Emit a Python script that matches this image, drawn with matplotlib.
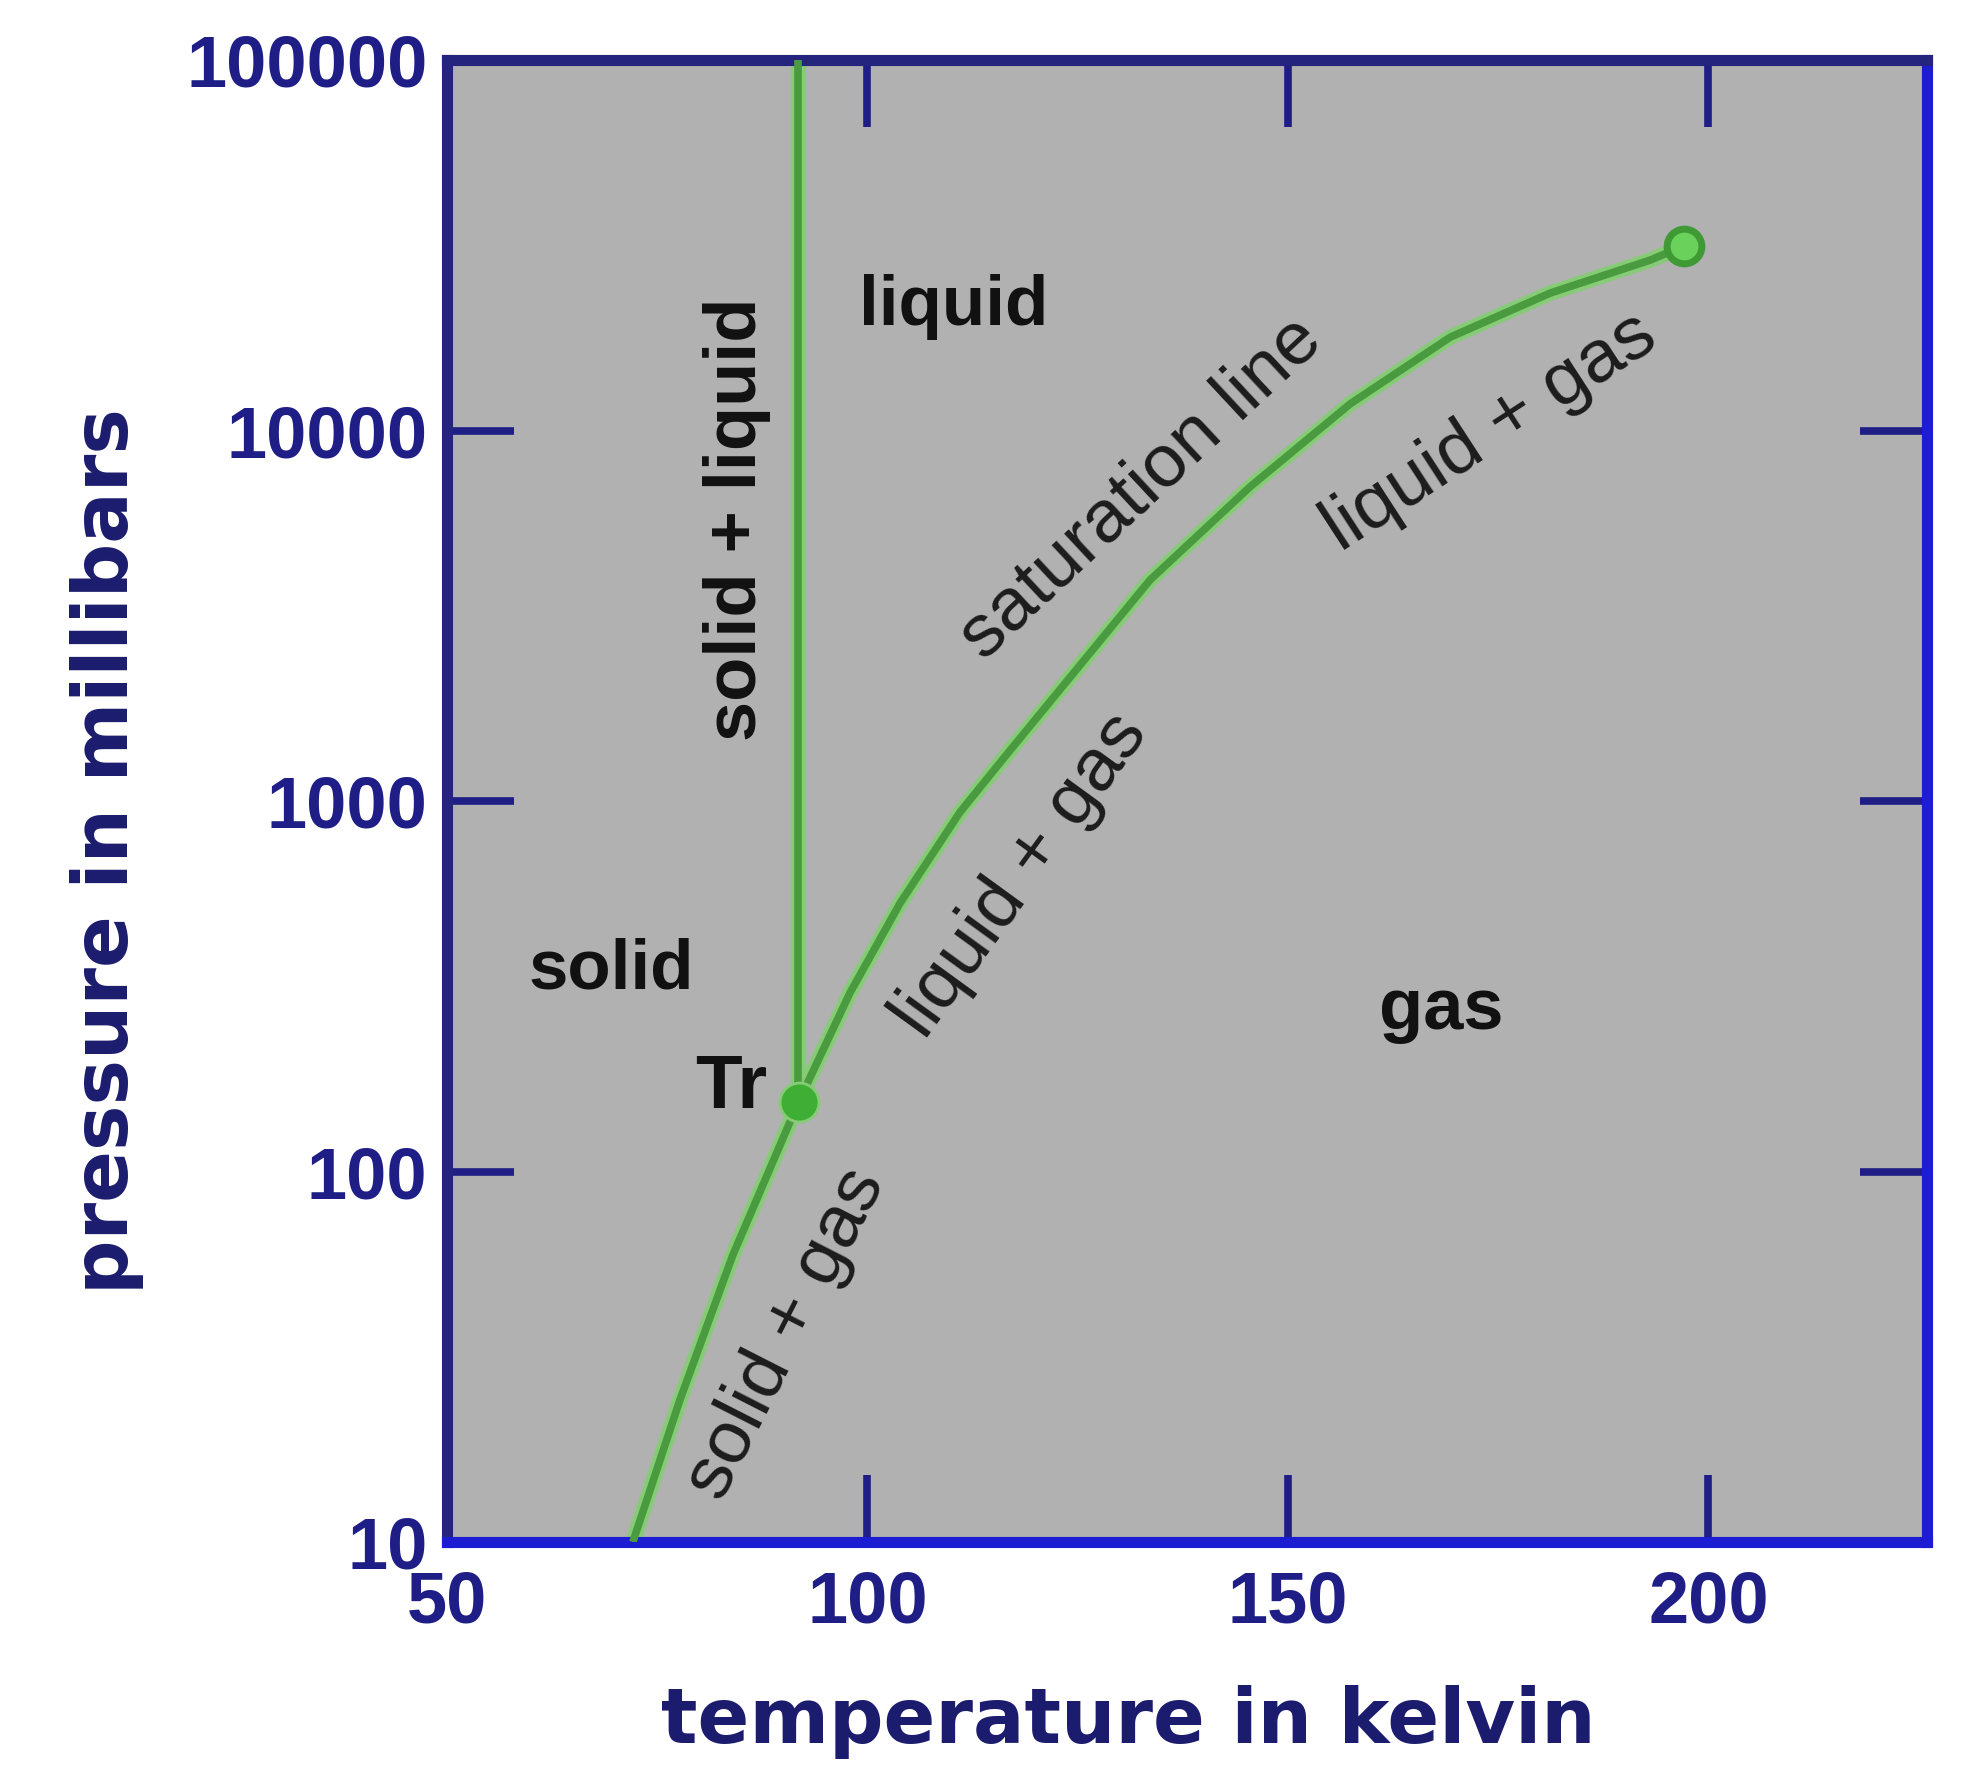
import matplotlib
matplotlib.use("Agg")
import matplotlib.pyplot as plt

OUT_NAME = "out.png"

# phase boundaries (temperature in K, pressure in mbar)
SUBLIMATION_T = [72.1, 77.7, 84.0, 91.8]
SUBLIMATION_P = [10, 24.2, 59.6, 154]

SATURATION_T = [91.8, 97.9, 103.9, 111.0, 117.0, 125.3, 133.6,
                145.5, 157.4, 169.3, 181.2, 193.1, 197.1]
SATURATION_P = [154, 303, 531, 933, 1374, 2330, 3950,
                7050, 11800, 17860, 23500, 28850, 31500]

MELTING_T = [91.7, 91.7]
MELTING_P = [154, 100000]

TRIPLE_T, TRIPLE_P = 91.8, 154
CRITICAL_T, CRITICAL_P = 197.1, 31500

X_TICKS = [50, 100, 150, 200]
Y_TICKS = [10, 100, 1000, 10000, 100000]
Y_TICK_LABELS = ["10", "100", "1000", "10000", "100000"]

# region labels: text, T, P, rotation, bold, size
REGION_LABELS = [
    ("liquid", 110.3, 21500, 0, True, 51),
    ("solid", 69.5, 348, 0, True, 51),
    ("gas", 168.2, 273, 0, True, 52),
    ("Tr", 83.8, 168, 0, True, 55),
    ("solid + liquid", 84.5, 5770, 90, True, 52),
    ("saturation line", 132.5, 7000, 43, False, 54),
    ("liquid + gas", 174.0, 9910, 33, False, 54),
    ("liquid + gas", 118.3, 628, 54, False, 54),
    ("solid + gas", 90.3, 36.6, 63, False, 54),
]

BG_GRAY = "#b1b1b1"
LINE_DARK = "#4a9a40"
LINE_LIGHT = "#86cc76"
NAVY = "#1e1e86"
LABEL_NAVY = "#1c1c6e"
FRAME_DARK = "#24247e"
FRAME_BLUE = "#1c1cd2"

fig = plt.figure(figsize=(19.71, 17.86), dpi=100)
ax = fig.add_axes([0.2268, 0.1366, 0.7509, 0.8298])
ax.set_facecolor(BG_GRAY)
ax.set_yscale("log")
ax.set_xlim(50, 226)
ax.set_ylim(10, 100000)

for xs, ys in [(SUBLIMATION_T, SUBLIMATION_P), (SATURATION_T, SATURATION_P),
               (MELTING_T, MELTING_P)]:
    ax.plot(xs, ys, color=LINE_LIGHT, lw=11, solid_capstyle="butt",
            solid_joinstyle="round", zorder=2)
    ax.plot(xs, ys, color=LINE_DARK, lw=5.5, solid_capstyle="butt",
            solid_joinstyle="round", zorder=3)

ax.plot([TRIPLE_T], [TRIPLE_P], "o", ms=28, color="#3fae34",
        markeredgecolor=LINE_LIGHT, markeredgewidth=2, zorder=4)
ax.plot([CRITICAL_T], [CRITICAL_P], "o", ms=25, color="#6ad25a",
        markeredgecolor="#3f9a36", markeredgewidth=5, zorder=4)

for text, t, p, rot, bold, size in REGION_LABELS:
    ax.text(t, p, text, rotation=rot, rotation_mode="anchor",
            ha="center", va="center", fontsize=size,
            fontweight="bold" if bold else "normal",
            family="Liberation Sans", color="#111111" if bold else "#1c1c1c",
            zorder=5)

ax.set_xticks(X_TICKS)
ax.set_xticklabels([str(v) for v in X_TICKS])
ax.set_yticks(Y_TICKS)
ax.set_yticklabels(Y_TICK_LABELS)
ax.minorticks_off()
ax.tick_params(axis="both", which="major", direction="in", length=48,
               width=5.5, color=NAVY, labelcolor=NAVY, labelsize=52,
               top=True, right=True)
ax.tick_params(axis="x", pad=20)
ax.tick_params(axis="y", pad=14)
for lbl in ax.get_xticklabels() + ax.get_yticklabels():
    lbl.set_fontfamily("Liberation Sans")
    lbl.set_fontweight("bold")

ax.spines["left"].set_color(FRAME_DARK)
ax.spines["top"].set_color(FRAME_DARK)
ax.spines["right"].set_color(FRAME_BLUE)
ax.spines["bottom"].set_color(FRAME_BLUE)
for sp in ax.spines.values():
    sp.set_linewidth(8)

fig.text(0.5723, 0.0358, "temperature in kelvin", ha="center", va="center",
         fontsize=55, fontweight="bold", family="DejaVu Sans", color=LABEL_NAVY)
fig.text(0.0543, 0.5235, "pressure in millibars", ha="center", va="center",
         rotation=90, fontsize=55, fontweight="bold", family="DejaVu Sans",
         color=LABEL_NAVY)

fig.savefig(OUT_NAME, dpi=100, facecolor="white")
